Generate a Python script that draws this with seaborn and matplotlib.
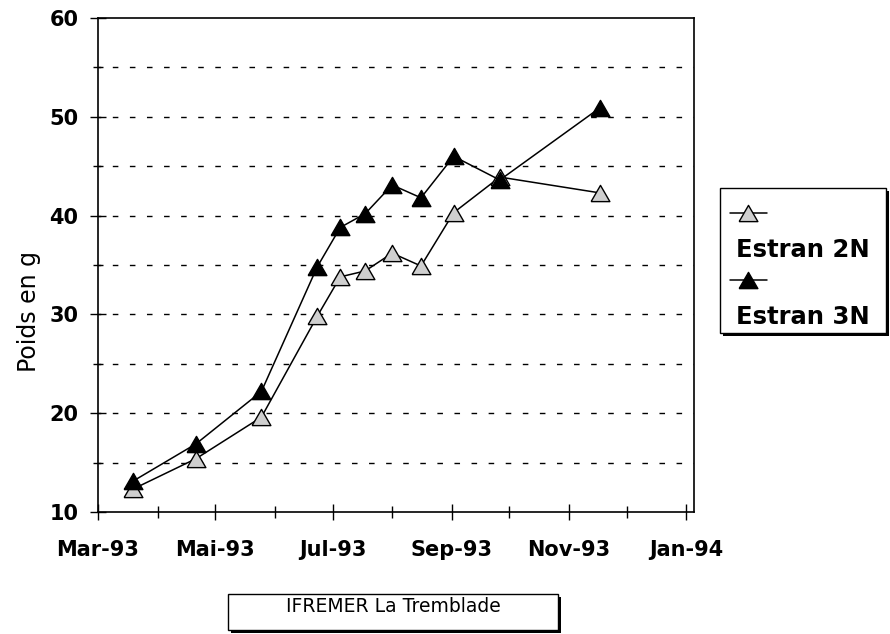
import matplotlib
matplotlib.use("Agg")
import matplotlib.pyplot as plt
import matplotlib.dates as mdates
from matplotlib.patches import Rectangle
from matplotlib.lines import Line2D
import seaborn as sns
import pandas as pd

# ---- data ----
dates = ["1993-03-19", "1993-04-21", "1993-05-25", "1993-06-23", "1993-07-05",
         "1993-07-18", "1993-08-01", "1993-08-16", "1993-09-02", "1993-09-26",
         "1993-11-17"]
estran_2n = [12.3, 15.4, 19.6, 29.8, 33.8, 34.4, 36.2, 34.9, 40.3, 43.9, 42.3]
estran_3n = [13.1, 16.9, 22.2, 34.8, 38.8, 40.2, 43.1, 41.8, 46.0, 43.6, 50.9]
series_labels = ["Estran 2N", "Estran 3N"]
xtick_dates = ["1993-03-01", "1993-05-01", "1993-07-01", "1993-09-01",
               "1993-11-01", "1994-01-01"]
xtick_labels = ["Mar-93", "Mai-93", "Jul-93", "Sep-93", "Nov-93", "Jan-94"]
yticks = [10, 20, 30, 40, 50, 60]
ylabel = "Poids en g"
caption = "IFREMER La Tremblade"

sns.set_style("white")
plt.rcParams["font.family"] = ["DejaVu Sans"]
for k in ["text.color", "axes.labelcolor", "xtick.color", "ytick.color", "axes.edgecolor"]:
    plt.rcParams[k] = "black"

W, H = 890, 634
fig = plt.figure(figsize=(W / 100, H / 100), dpi=100)
ax = fig.add_axes([98 / W, (H - 512) / H, (694 - 98) / W, (512 - 18) / H])

tri = [(-1, -0.866), (1, -0.866), (0, 0.866), (-1, -0.866)]

df = pd.DataFrame({"date": pd.to_datetime(dates), "n2": estran_2n, "n3": estran_3n})
sns.lineplot(data=df, x="date", y="n2", ax=ax, color="black", lw=1.1,
             marker=tri, markersize=13.5, markerfacecolor="#cfcfcf",
             markeredgecolor="black", markeredgewidth=1.0, zorder=3)
sns.lineplot(data=df, x="date", y="n3", ax=ax, color="black", lw=1.1,
             marker=tri, markersize=13.5, markerfacecolor="black",
             markeredgecolor="black", markeredgewidth=1.0, zorder=4)

ax.set_ylim(10, 60)
ax.set_xlim(pd.Timestamp("1993-03-01"), pd.Timestamp("1994-01-05"))
ax.set_yticks(yticks)
ax.set_yticks([15, 25, 35, 45, 55], minor=True)
ax.set_xticks(pd.to_datetime(xtick_dates))
ax.set_xticklabels(xtick_labels)
ax.xaxis.set_minor_locator(mdates.MonthLocator())

ax.grid(False)
for yv in [15, 20, 25, 30, 35, 40, 45, 50, 55]:
    ax.axhline(yv, color="black", lw=1.0, linestyle=(2, (4, 8.3)), zorder=1)

for s in ax.spines.values():
    s.set_visible(True)
    s.set_color("black")
    s.set_linewidth(1.2)

ax.tick_params(axis="both", which="major", direction="inout", length=12,
               width=1.0, color="black", labelcolor="black")
ax.tick_params(axis="y", which="minor", direction="inout", length=6.5, width=1.0)
ax.tick_params(axis="x", which="minor", direction="inout", length=8, width=1.0)
ax.tick_params(axis="x", which="both", bottom=True, top=False)
ax.tick_params(axis="y", which="both", left=True, right=False)
ax.tick_params(axis="x", which="major", pad=14)
ax.tick_params(axis="y", which="major", pad=8)
for lab in ax.get_xticklabels() + ax.get_yticklabels():
    lab.set_fontsize(15)
    lab.set_fontweight("bold")

ax.set_xlabel("")
ax.set_ylabel(ylabel, fontsize=17, fontweight="normal", color="black")
ax.yaxis.label.set_va("center")
ax.yaxis.set_label_coords((29 - 98) / (694 - 98), (512 - 311) / (512 - 18))


def fx(px):
    return px / W


def fy(py):
    return 1 - py / H


# ---- legend box (manual) ----
lx0, lx1, ly0, ly1 = 720, 886, 188, 333
fig.patches.append(Rectangle((fx(lx0 + 3), fy(ly1 + 3)), fx(lx1 - lx0), (ly1 - ly0) / H,
                             transform=fig.transFigure, facecolor="black",
                             edgecolor="black", lw=0, zorder=1))
fig.patches.append(Rectangle((fx(lx0), fy(ly1)), fx(lx1 - lx0), (ly1 - ly0) / H,
                             transform=fig.transFigure, facecolor="white",
                             edgecolor="black", lw=1.0, zorder=2))
fills = ["#cfcfcf", "black"]
line_y = [213, 280]
text_y = [250, 317]
for i in range(2):
    fig.lines.append(Line2D([fx(730), fx(748), fx(767)], [fy(line_y[i])] * 3,
                            transform=fig.transFigure, color="black", lw=1.1,
                            marker=tri, markersize=13.5, markevery=[1],
                            markerfacecolor=fills[i], markeredgecolor="black",
                            markeredgewidth=1.0, zorder=3))
    fig.text(fx(736), fy(text_y[i]), series_labels[i], fontsize=17.5,
             fontweight="bold", ha="left", va="center", color="black", zorder=4)

# ---- caption box ----
cx0, cx1, cy0, cy1 = 228, 558, 594, 630
fig.patches.append(Rectangle((fx(cx0 + 3), fy(cy1 + 3)), fx(cx1 - cx0), (cy1 - cy0) / H,
                             transform=fig.transFigure, facecolor="black",
                             edgecolor="black", lw=0, zorder=1))
fig.patches.append(Rectangle((fx(cx0), fy(cy1)), fx(cx1 - cx0), (cy1 - cy0) / H,
                             transform=fig.transFigure, facecolor="white",
                             edgecolor="black", lw=1.0, zorder=2))
fig.text(fx(393), fy(607), caption, fontsize=13.5, ha="center", va="center",
         color="black", zorder=4)

fig.savefig("out.png", dpi=100)
